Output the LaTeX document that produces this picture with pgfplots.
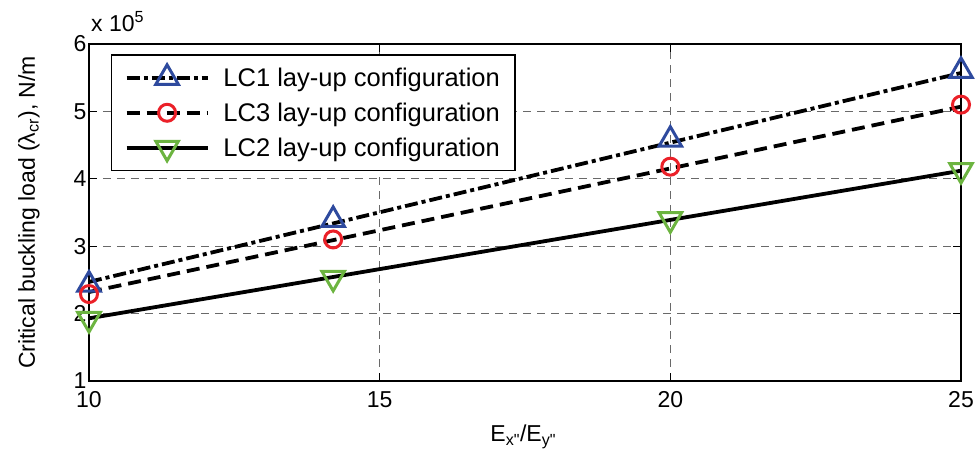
\documentclass[border=0pt]{standalone}
\usepackage{fontspec}
\setmainfont{Liberation Sans}
\newfontfamily\plainfont{Liberation Sans}[Ligatures=TeXOff]
\usepackage{pgfplots}
\pgfplotsset{compat=1.18}
\definecolor{mblue}{RGB}{46,74,158}
\definecolor{mred}{RGB}{235,32,40}
\definecolor{mgreen}{RGB}{108,180,64}
\definecolor{gridgray}{RGB}{105,105,105}
\pgfplotsset{
  legA/.style={legend image code/.code={
    \draw[black, line width=3.8pt, dash pattern=on 13pt off 4pt on 4pt off 4pt] (0pt,0pt) -- (81pt,0pt);
    \draw[##1] plot coordinates {(40.5pt,0pt)};}},
  legB/.style={legend image code/.code={
    \draw[black, line width=3.8pt, dash pattern=on 13pt off 7pt] (0pt,0pt) -- (81pt,0pt);
    \draw[##1] plot coordinates {(40.5pt,0pt)};}},
  legC/.style={legend image code/.code={
    \draw[black, line width=3.8pt] (0pt,0pt) -- (81pt,0pt);
    \draw[##1] plot coordinates {(40.5pt,0pt)};}},
}
\begin{document}
\begin{tikzpicture}
\useasboundingbox (-89pt,-76pt) rectangle (890pt,381pt);
\begin{axis}[
  at={(0pt,0pt)}, anchor=south west,
  scale only axis, width=872pt, height=337pt,
  xmin=10, xmax=25, ymin=1, ymax=6,
  xtick={10,15,20,25}, ytick={1,2,3,4,5,6},
  font=\fontsize{23}{28}\selectfont,
  /pgf/number format/assume math mode=true,
  tick align=inside, major tick length=8pt,
  every tick/.style={black, line width=1.2pt},
  axis line style={line width=1.4pt},
  xticklabel style={yshift=-7pt},
  yticklabel style={xshift=1pt},
  grid=major,
  major grid style={gridgray, dash pattern=on 8pt off 6pt, line width=1.2pt},
  clip=false,
  xlabel={E\textsubscript{x{\plainfont"}}/E\textsubscript{y{\plainfont"}}},
  xlabel style={at={(axis description cs:0.498,-0.166)}, anchor=center},
  ylabel={Critical buckling load (λ\textsubscript{cr}), N/m},
  ylabel style={at={(axis description cs:-0.0688,0.5)}, anchor=center},
  legend style={at={(0.0252,0.970)}, anchor=north west, draw=black, line width=1.4pt,
    fill=white, font=\fontsize{25.5}{30}\selectfont, row sep=11pt, inner xsep=13pt, inner ysep=10pt,
    /tikz/every odd column/.append style={column sep=12pt}},
  legend cell align=left,
]
\addplot[black, line width=3.8pt, dash pattern=on 13pt off 4pt on 4pt off 4pt, forget plot] coordinates {(10,2.47) (25,5.57)};
\addplot[black, line width=3.8pt, dash pattern=on 13pt off 7pt, forget plot] coordinates {(10,2.32) (25,5.07)};
\addplot[black, line width=3.8pt, forget plot] coordinates {(10,1.93) (25,4.12)};

\addplot[only marks, mark=triangle, mark size=13pt, mark options={draw=mblue, line width=3pt, fill=none}, legA]
  coordinates {(10,2.43) (14.2,3.39) (20,4.58) (25,5.60)};
\addlegendentry{LC1 lay-up configuration}
\addplot[only marks, mark=o, mark size=8.5pt, mark options={draw=mred, line width=3pt, fill=white}, legB]
  coordinates {(10,2.29) (14.2,3.10) (20,4.18) (25,5.10)};
\addlegendentry{LC3 lay-up configuration}
\addplot[only marks, mark=triangle, mark size=13pt, mark options={draw=mgreen, line width=3pt, fill=none, rotate=180}, legC]
  coordinates {(10,1.92) (14.2,2.53) (20,3.40) (25,4.13)};
\addlegendentry{LC2 lay-up configuration}

\node[anchor=base west, inner sep=0pt] at (rel axis cs:0,1) [shift={(2pt,12.5pt)}] {x 10\textsuperscript{5}};
\end{axis}
\end{tikzpicture}
\end{document}
